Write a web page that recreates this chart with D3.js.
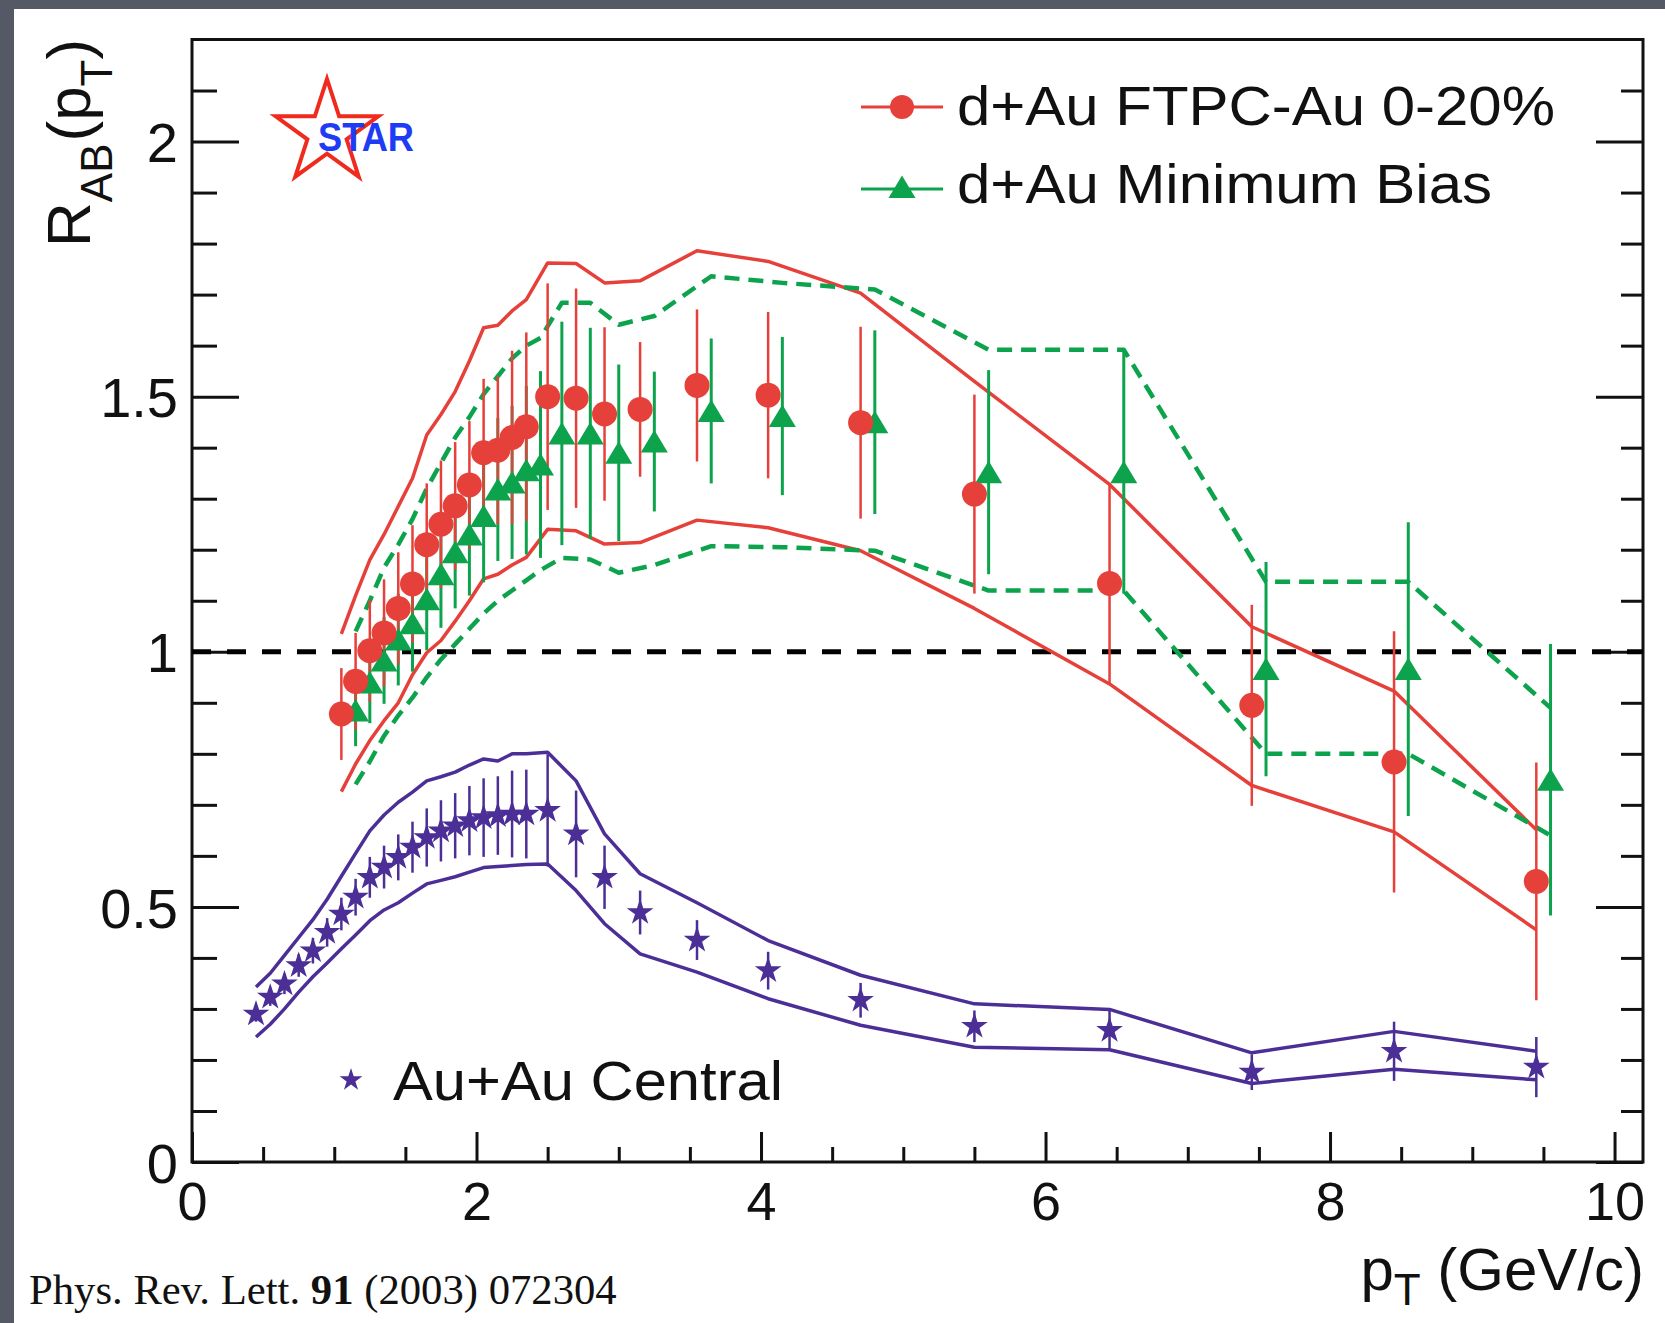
<!DOCTYPE html>
<html><head><meta charset="utf-8">
<script src="https://cdn.jsdelivr.net/npm/d3@7"></script>
<style>html,body{margin:0;padding:0;background:#545965;}svg{display:block;}</style>
</head><body><svg id="c" width="1665" height="1323"></svg>
<script>
// ---- data ----
const redX = [1.05,1.15,1.25,1.35,1.45,1.55,1.65,1.75,1.85,1.95,2.05,2.15,2.25,2.35,2.5,2.7,2.9,3.15,3.55,4.05,4.7,5.5,6.45,7.45,8.45,9.45];
const redY = [0.878,0.942,1.002,1.037,1.085,1.133,1.21,1.25,1.286,1.327,1.39,1.395,1.42,1.441,1.50,1.497,1.466,1.475,1.522,1.503,1.449,1.309,1.134,0.895,0.784,0.55];
const redErr = [0.09,0.095,0.1,0.105,0.11,0.115,0.12,0.125,0.125,0.125,0.145,0.145,0.17,0.185,0.222,0.215,0.17,0.132,0.149,0.163,0.188,0.195,0.196,0.197,0.256,0.233];
const redSysUp = [1.035,1.11,1.18,1.23,1.285,1.34,1.425,1.465,1.51,1.57,1.635,1.64,1.668,1.69,1.762,1.761,1.723,1.727,1.786,1.765,1.703,1.53,1.328,1.049,0.923,0.651];
const redSysLo = [0.726,0.78,0.826,0.865,0.9,0.955,0.998,1.022,1.06,1.1,1.143,1.152,1.17,1.185,1.24,1.237,1.211,1.214,1.258,1.243,1.198,1.085,0.937,0.738,0.647,0.455];

const greenX = [1.15,1.25,1.35,1.45,1.55,1.65,1.75,1.85,1.95,2.05,2.15,2.25,2.35,2.45,2.6,2.8,3.0,3.25,3.65,4.15,4.8,5.6,6.55,7.55,8.55,9.55];
const greenY = [0.885,0.94,0.983,1.024,1.056,1.103,1.152,1.195,1.23,1.266,1.318,1.332,1.356,1.367,1.428,1.428,1.39,1.412,1.472,1.462,1.45,1.352,1.352,0.966,0.966,0.749];
const greenErr = [0.07,0.08,0.085,0.09,0.095,0.1,0.105,0.11,0.12,0.13,0.14,0.15,0.165,0.183,0.219,0.207,0.173,0.137,0.142,0.155,0.18,0.2,0.238,0.21,0.288,0.266];
const greenSysUp = [1.04,1.1,1.165,1.21,1.26,1.32,1.37,1.42,1.46,1.505,1.54,1.575,1.6,1.615,1.684,1.684,1.641,1.658,1.736,1.723,1.71,1.592,1.592,1.137,1.137,0.89];
const greenSysLo = [0.74,0.785,0.835,0.875,0.91,0.95,0.985,1.015,1.045,1.075,1.1,1.12,1.14,1.16,1.184,1.181,1.155,1.17,1.207,1.205,1.198,1.12,1.12,0.8,0.8,0.64];

const auX = [0.45,0.55,0.65,0.75,0.85,0.95,1.05,1.15,1.25,1.35,1.45,1.55,1.65,1.75,1.85,1.95,2.05,2.15,2.25,2.35,2.5,2.7,2.9,3.15,3.55,4.05,4.7,5.5,6.45,7.45,8.45,9.45];
const auY = [0.290,0.323,0.349,0.385,0.414,0.450,0.486,0.519,0.558,0.578,0.597,0.617,0.636,0.649,0.659,0.669,0.675,0.679,0.682,0.682,0.689,0.643,0.558,0.489,0.435,0.375,0.317,0.266,0.258,0.176,0.217,0.186];
const auErr = [0.015,0.017,0.02,0.022,0.025,0.028,0.032,0.036,0.04,0.042,0.045,0.05,0.057,0.06,0.064,0.068,0.077,0.077,0.085,0.087,0.11,0.085,0.062,0.043,0.039,0.037,0.034,0.031,0.038,0.035,0.058,0.059];
const auSysUp = [0.343,0.37,0.405,0.44,0.475,0.515,0.56,0.605,0.649,0.68,0.705,0.725,0.747,0.755,0.764,0.778,0.79,0.786,0.8,0.8,0.803,0.747,0.643,0.565,0.508,0.434,0.366,0.31,0.299,0.214,0.256,0.217];
const auSysLo = [0.245,0.27,0.30,0.333,0.363,0.39,0.418,0.445,0.473,0.494,0.508,0.527,0.545,0.552,0.559,0.568,0.577,0.579,0.581,0.583,0.584,0.532,0.467,0.408,0.372,0.32,0.268,0.225,0.22,0.154,0.182,0.161];

const xMajorTicks = [0,2,4,6,8,10];
const xMinorTicks = [0.5,1,1.5,2.5,3,3.5,4.5,5,5.5,6.5,7,7.5,8.5,9,9.5];
const yMajorTicks = [0,0.5,1,1.5,2];
const yMinorTicks = [0.1,0.2,0.3,0.4,0.6,0.7,0.8,0.9,1.1,1.2,1.3,1.4,1.6,1.7,1.8,1.9,2.1];
const xTickLabels = ["0","2","4","6","8","10"];
const yTickLabels = ["0","0.5","1","1.5","2"];
const legendLabels = ["d+Au FTPC-Au 0-20%","d+Au Minimum Bias","Au+Au Central"];

// ---- styles ----
const RED = "#e6403a", GREEN = "#0da34d", PURPLE = "#4b2f97";
const FONT = "'Liberation Sans', Arial, Helvetica, sans-serif";

const svg = d3.select("#c");
svg.append("rect").attr("x",0).attr("y",0).attr("width",1665).attr("height",1323).attr("fill","#545965");
svg.append("rect").attr("x",14).attr("y",9).attr("width",1665-14).attr("height",1323-9).attr("fill","#ffffff");

const x = d3.scaleLinear().domain([0,10.2]).range([192,1643]);
const y = d3.scaleLinear().domain([0,2.2]).range([1162,39.5]);

// ---- axes ----
function styleAxis(g){ g.select(".domain").remove(); g.selectAll("line").attr("stroke","#111").attr("stroke-width",3); }
svg.append("g").attr("transform",`translate(0,${y(0)})`)
  .call(d3.axisBottom(x).tickValues(xMinorTicks).tickFormat("").tickSizeInner(-15).tickSizeOuter(0)).call(styleAxis);
svg.append("g").attr("transform",`translate(0,${y(0)})`)
  .call(d3.axisBottom(x).tickValues(xMajorTicks).tickFormat((d,i)=>xTickLabels[i]).tickSizeInner(-30).tickSizeOuter(0).tickPadding(20))
  .call(styleAxis)
  .call(g=>g.selectAll("text").attr("font-family",FONT).attr("font-size",54).attr("fill","#111"));
svg.append("g").attr("transform",`translate(${x(0)},0)`)
  .call(d3.axisLeft(y).tickValues(yMinorTicks).tickFormat("").tickSizeInner(-25).tickSizeOuter(0)).call(styleAxis);
svg.append("g").attr("transform",`translate(${x(0)},0)`)
  .call(d3.axisLeft(y).tickValues(yMajorTicks).tickFormat((d,i)=>yTickLabels[i]).tickSizeInner(-47).tickSizeOuter(0).tickPadding(14))
  .call(styleAxis)
  .call(g=>g.selectAll("text").attr("font-family",FONT).attr("font-size",56).attr("fill","#111").attr("dy","0.36em"));
svg.append("g").attr("transform",`translate(${x(10.2)},0)`)
  .call(d3.axisRight(y).tickValues(yMinorTicks).tickFormat("").tickSizeInner(-22).tickSizeOuter(0)).call(styleAxis);
svg.append("g").attr("transform",`translate(${x(10.2)},0)`)
  .call(d3.axisRight(y).tickValues(yMajorTicks).tickFormat("").tickSizeInner(-47).tickSizeOuter(0)).call(styleAxis);

// frame
svg.append("rect").attr("x",x(0)).attr("y",y(2.2)).attr("width",x(10.2)-x(0)).attr("height",y(0)-y(2.2))
  .attr("fill","none").attr("stroke","#111").attr("stroke-width",3);

// unity line
svg.append("line").attr("x1",x(0)).attr("x2",x(10.2)).attr("y1",y(1)).attr("y2",y(1))
  .attr("stroke","#000").attr("stroke-width",5).attr("stroke-dasharray","19,16");

// ---- systematic bands ----
const line = d3.line().x(d=>x(d[0])).y(d=>y(d[1]));
function band(xs, up, lo, color, dash, w){
  [up, lo].forEach(arr=>{
    svg.append("path").attr("d", line(xs.map((v,i)=>[v,arr[i]])))
      .attr("fill","none").attr("stroke",color).attr("stroke-width",w)
      .attr("stroke-dasharray",dash||null).attr("stroke-linejoin","round");
  });
}
band(redX, redSysUp, redSysLo, RED, null, 3.5);
band(greenX, greenSysUp, greenSysLo, GREEN, "15,9", 4.5);
band(auX, auSysUp, auSysLo, PURPLE, null, 3.5);

// ---- error bars ----
function errs(xs, ys, es, color, w){
  svg.append("g").selectAll("line").data(xs).join("line")
    .attr("x1",d=>x(d)).attr("x2",d=>x(d))
    .attr("y1",(d,i)=>y(ys[i]+es[i])).attr("y2",(d,i)=>y(ys[i]-es[i]))
    .attr("stroke",color).attr("stroke-width",w);
}
errs(auX, auY, auErr, PURPLE, 2.5);
errs(greenX, greenY, greenErr, GREEN, 3);
errs(redX, redY, redErr, RED, 2.5);

// ---- markers ----
function starPath(R){
  const r = R*0.382; let p=[];
  for(let k=0;k<10;k++){ const a=-Math.PI/2 + k*Math.PI/5; const rr = k%2?r:R; p.push([rr*Math.cos(a), rr*Math.sin(a)]); }
  return "M"+p.map(q=>q[0].toFixed(2)+","+q[1].toFixed(2)).join("L")+"Z";
}
const triPath = "M0,-11.5L13.5,11L-13.5,11Z";

svg.append("g").selectAll("path").data(auX).join("path")
  .attr("d",starPath(14)).attr("transform",(d,i)=>`translate(${x(d)},${y(auY[i])})`).attr("fill",PURPLE);
svg.append("g").selectAll("path").data(greenX).join("path")
  .attr("d",triPath).attr("transform",(d,i)=>`translate(${x(d)},${y(greenY[i])})`).attr("fill",GREEN);
svg.append("g").selectAll("circle").data(redX).join("circle")
  .attr("cx",d=>x(d)).attr("cy",(d,i)=>y(redY[i])).attr("r",12.5).attr("fill",RED);

// ---- legend ----
svg.append("line").attr("x1",861).attr("x2",943).attr("y1",107).attr("y2",107).attr("stroke",RED).attr("stroke-width",3);
svg.append("circle").attr("cx",902).attr("cy",107).attr("r",12).attr("fill",RED);
svg.append("text").attr("x",957).attr("y",125).attr("font-family",FONT).attr("font-size",56)
  .attr("textLength",598).attr("lengthAdjust","spacingAndGlyphs").attr("fill","#111").text(legendLabels[0]);
svg.append("line").attr("x1",861).attr("x2",943).attr("y1",189).attr("y2",189).attr("stroke",GREEN).attr("stroke-width",3);
svg.append("path").attr("d",triPath).attr("transform","translate(902,187)").attr("fill",GREEN);
svg.append("text").attr("x",957).attr("y",203).attr("font-family",FONT).attr("font-size",56)
  .attr("textLength",535).attr("lengthAdjust","spacingAndGlyphs").attr("fill","#111").text(legendLabels[1]);
svg.append("path").attr("d",starPath(12)).attr("transform","translate(351,1080)").attr("fill",PURPLE);
svg.append("text").attr("x",393).attr("y",1100).attr("font-family",FONT).attr("font-size",56)
  .attr("textLength",390).attr("lengthAdjust","spacingAndGlyphs").attr("fill","#111").text(legendLabels[2]);

// ---- STAR logo ----
svg.append("path").attr("d",starPath(54)).attr("transform","translate(327,133)")
  .attr("fill","#fff").attr("stroke","#f02a1c").attr("stroke-width",4).attr("stroke-linejoin","miter");
svg.append("text").attr("x",318).attr("y",151).attr("font-family",FONT).attr("font-weight","bold").attr("font-size",41)
  .attr("textLength",96).attr("lengthAdjust","spacingAndGlyphs").attr("fill","#1f3cf5").text("STAR");

// ---- axis titles ----
const yt = svg.append("text").attr("transform","translate(90,247) rotate(-90)")
  .attr("font-family",FONT).attr("font-size",62).attr("fill","#111");
yt.append("tspan").text("R");
yt.append("tspan").attr("font-size",44).attr("dy",22).text("AB");
yt.append("tspan").attr("dy",-22).attr("dx",2).text("(p");
yt.append("tspan").attr("font-size",44).attr("dy",22).text("T");
yt.append("tspan").attr("dy",-22).text(")");

const xt = svg.append("text").attr("x",1644).attr("y",1290).attr("text-anchor","end")
  .attr("font-family",FONT).attr("font-size",60).attr("fill","#111");
xt.append("tspan").text("p");
xt.append("tspan").attr("font-size",44).attr("dy",15).text("T");
xt.append("tspan").attr("dy",-15).text(" (GeV/c)");

// ---- citation ----
const ct = svg.append("text").attr("x",29).attr("y",1304).attr("font-family","'Liberation Serif', 'Times New Roman', serif")
  .attr("font-size",42.7).attr("fill","#111");
ct.append("tspan").text("Phys. Rev. Lett. ");
ct.append("tspan").attr("font-weight","bold").text("91");
ct.append("tspan").text(" (2003) 072304");
</script>
</body></html>
